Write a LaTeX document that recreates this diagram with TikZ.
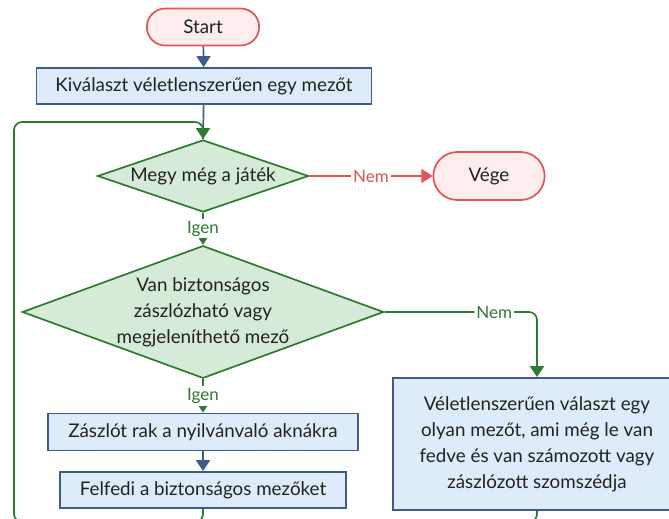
\documentclass[tikz,border=0pt]{standalone}
\usepackage{fontspec}
\setmainfont{Lato}
\usetikzlibrary{shapes.geometric,shapes.misc,arrows.meta}
\definecolor{termred}{RGB}{226,84,88}
\definecolor{termfill}{RGB}{253,237,237}
\definecolor{procblue}{RGB}{62,92,134}
\definecolor{procfill}{RGB}{222,235,250}
\definecolor{condgreen}{RGB}{46,122,50}
\definecolor{condfill}{RGB}{213,235,216}
\definecolor{txt}{RGB}{34,34,34}
\begin{document}
\begin{tikzpicture}[x=1pt, y=-1pt, line width=1.7pt,
    font=\fontsize{18.8}{26}\selectfont, text=txt,
    term/.style={rounded rectangle, draw=termred, fill=termfill},
    proc/.style={rectangle, draw=procblue, fill=procfill},
    cond/.style={diamond, draw=condgreen, fill=condfill, inner sep=0pt},
    arr/.style={-{Triangle[width=14pt,length=11pt]}},
    lbl/.style={fill=white, inner sep=2pt, font=\fontsize{17}{18}\selectfont}]
    \useasboundingbox (0,0) rectangle (669,519);
    \clip (0,0) rectangle (669,519);
    % nodes
    \node[term, minimum width=119pt, minimum height=37pt] (start) at (203,27) {Start};
    \node[proc, minimum width=335pt, minimum height=36pt] (pick) at (204,86) {Kiválaszt véletlenszerűen egy mezőt};
    \node[cond, aspect=2.93, minimum width=211pt, minimum height=72pt] (going) at (203,176) {Megy még a játék};
    \node[term, minimum width=118pt, minimum height=48pt] (end) at (489,176) {Vége};
    \node[cond, aspect=2.725, minimum width=357pt, minimum height=131pt, align=center] (safe) at (203,312)
        {Van biztonságos\\zászlózható vagy\\megjeleníthető mező};
    \node[proc, minimum width=310pt, minimum height=37pt] (flag) at (203,432) {Zászlót rak a nyilvánvaló aknákra};
    \node[proc, minimum width=286pt, minimum height=36pt] (reveal) at (203,490) {Felfedi a biztonságos mezőket};
    \node[proc, minimum width=288pt, minimum height=132pt, align=center] (guess) at (537,444)
        {Véletlenszerűen választ egy\\olyan mezőt, ami még le van\\fedve és van számozott vagy\\zászlózott szomszédja};
    \coordinate (merge) at (203,522);
    \coordinate (back) at (14,122);
    % connectors
    \draw[procblue, arr] (start) -- (pick);
    \draw[procblue] (pick) -- (going.north);
    \draw[termred, arr] (going) -- node[lbl, text=termred] {Nem} (end);
    \draw[condgreen, arr] (going) -- node[lbl, text=condgreen] {Igen} (safe);
    \draw[condgreen, arr] (safe) -- node[lbl, text=condgreen] {Igen} (flag);
    \draw[procblue, arr] (flag) -- (reveal);
    \draw[condgreen, arr, rounded corners=8pt] (safe.east) -| node[lbl, text=condgreen, pos=.36] {Nem} (guess.north);
    \draw[condgreen, rounded corners=8pt] (guess.south) |- (merge);
    \draw[condgreen, arr, rounded corners=8pt] (reveal.south) -- (merge) -| (back) -| (going.north);
\end{tikzpicture}
\end{document}
